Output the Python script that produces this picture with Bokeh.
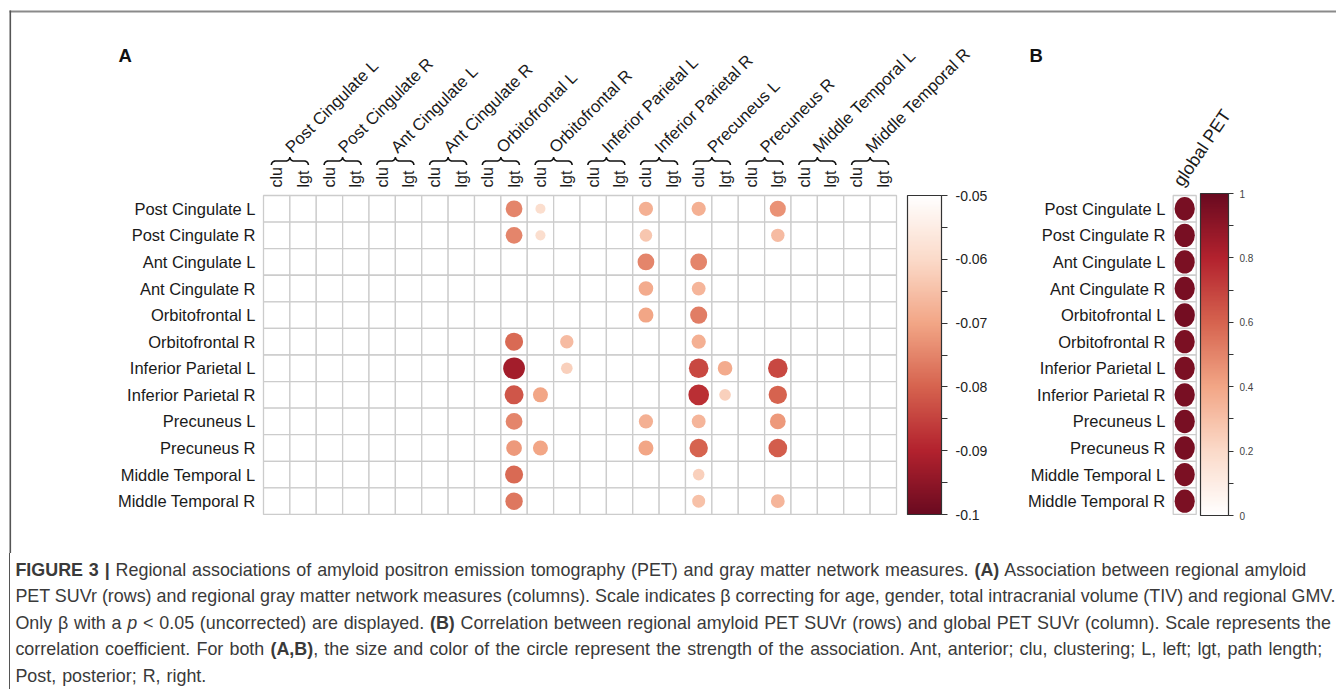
import numpy as np
from bokeh.plotting import figure
from bokeh.models import (ColumnDataSource, LinearColorMapper, ColorBar, FixedTicker,
                          CustomJSTickFormatter, Div, Range1d)
from bokeh.layouts import column
from bokeh.core.properties import value
from bokeh.embed import file_html
from bokeh.resources import INLINE

# ---------------- data ----------------
regions = ["Post Cingulate L", "Post Cingulate R", "Ant Cingulate L", "Ant Cingulate R",
           "Orbitofrontal L", "Orbitofrontal R", "Inferior Parietal L", "Inferior Parietal R",
           "Precuneus L", "Precuneus R", "Middle Temporal L", "Middle Temporal R"]
measures = ["clu", "lgt"]

# Panel A: beta (rows = regional PET SUVr); None = not significant / not displayed
orbitofrontal_l_lgt = [-0.075, -0.075, None, None, None, -0.079, -0.092, -0.082, -0.075, -0.072, -0.079, -0.077]
orbitofrontal_r_clu = [-0.059, -0.059, None, None, None, None, None, -0.070, None, -0.070, None, None]
orbitofrontal_r_lgt = [None, None, None, None, None, -0.066, -0.062, None, None, None, None, None]
inferior_parietal_r_clu = [-0.068, -0.064, -0.075, -0.069, -0.070, None, None, None, -0.068, -0.070, None, None]
precuneus_l_clu = [-0.068, None, -0.075, -0.067, -0.076, -0.068, -0.084, -0.088, -0.067, -0.080, -0.062, -0.065]
precuneus_l_lgt = [None, None, None, None, None, None, -0.069, -0.062, None, None, None, None]
precuneus_r_lgt = [-0.073, -0.066, None, None, None, None, -0.084, -0.080, -0.072, -0.081, None, -0.067]

a_columns = [("Orbitofrontal L", "lgt", orbitofrontal_l_lgt),
             ("Orbitofrontal R", "clu", orbitofrontal_r_clu),
             ("Orbitofrontal R", "lgt", orbitofrontal_r_lgt),
             ("Inferior Parietal R", "clu", inferior_parietal_r_clu),
             ("Precuneus L", "clu", precuneus_l_clu),
             ("Precuneus L", "lgt", precuneus_l_lgt),
             ("Precuneus R", "lgt", precuneus_r_lgt)]

# Panel B: correlation with global PET SUVr
global_pet_r = [0.96, 0.96, 0.95, 0.96, 0.97, 0.95, 0.95, 0.96, 0.96, 0.96, 0.95, 0.95]

a_ticks = [-0.1, -0.09, -0.08, -0.07, -0.06, -0.05]
a_minor_ticks = [-0.095, -0.085, -0.075, -0.065, -0.055]
b_ticks = [0, 0.2, 0.4, 0.6, 0.8, 1]
b_minor_ticks = [0.1, 0.3, 0.5, 0.7, 0.9]

caption_lines = [
    '<b>FIGURE 3 |</b> Regional associations of amyloid positron emission tomography (PET) and gray matter network measures. <b>(A)</b> Association between regional amyloid',
    'PET SUVr (rows) and regional gray matter network measures (columns). Scale indicates \u03b2 correcting for age, gender, total intracranial volume (TIV) and regional GMV.',
    'Only \u03b2 with a <i>p</i> &lt; 0.05 (uncorrected) are displayed. <b>(B)</b> Correlation between regional amyloid PET SUVr (rows) and global PET SUVr (column). Scale represents the',
    'correlation coefficient. For both <b>(A,B)</b>, the size and color of the circle represent the strength of the association. Ant, anterior; clu, clustering; L, left; lgt, path length;',
    'Post, posterior; R, right.',
]
caption_word_spacing = [0.9, 0.0, 0.8, 1.2, 1.0]

# ---------------- layout geometry (page pixels) ----------------
W, H, TOTAL_H = 1336, 553, 689
GRID_LEFT, CELL_W = 263.0, 26.375
GRID_TOP, CELL_H = 195.0, 26.58
FONT = value("Liberation Sans")


def X(px):
    return (px - GRID_LEFT) / CELL_W - 0.5


def Y(py):
    return 0.5 - (py - GRID_TOP) / CELL_H


anchors = ["#6A0A20", "#B3222E", "#D6634F", "#F2A686", "#FBDAC9", "#FFFFFF"]


def ramp(cols, n=256):
    rgb = np.array([[int(c[i:i + 2], 16) for i in (1, 3, 5)] for c in cols], float)
    pos = np.linspace(0, 1, len(cols))
    t = np.linspace(0, 1, n)
    out = np.stack([np.interp(t, pos, rgb[:, k]) for k in range(3)], axis=1)
    return ["#%02x%02x%02x" % tuple(int(round(v)) for v in row) for row in out]


pal = ramp(anchors)
map_a = LinearColorMapper(palette=pal, low=-0.1, high=-0.05)
map_b = LinearColorMapper(palette=pal[::-1], low=0, high=1)

p = figure(width=W, height=H, output_backend="svg", toolbar_location=None,
           x_range=Range1d(X(0), X(W)), y_range=Range1d(Y(H), Y(0)),
           x_axis_location=None, y_axis_location=None, min_border=0,
           background_fill_color="white", border_fill_color="white")
p.grid.visible = False
p.outline_line_color = None

# frame lines of the figure box
p.segment(x0=[X(9)], y0=[Y(11)], x1=[X(W)], y1=[Y(11)], line_color="#8a8a8a", line_width=2)
p.segment(x0=[X(9.8)], y0=[Y(10)], x1=[X(9.8)], y1=[Y(H)], line_color="#555555", line_width=1.6)

# ---------------- panel A ----------------
ncol = len(regions) * len(measures)
gx, gy = np.meshgrid(np.arange(ncol), -np.arange(len(regions)))
p.rect(x=gx.ravel(), y=gy.ravel(), width=1, height=1, fill_color="white",
       line_color="#cccccc", line_width=1.3)

cx, cy, cv = [], [], []
for reg, meas, vals in a_columns:
    ci = regions.index(reg) * 2 + measures.index(meas)
    for r, v in enumerate(vals):
        if v is not None:
            cx.append(ci)
            cy.append(-r)
            cv.append(v)
cv = np.array(cv)
src_a = ColumnDataSource(dict(x=cx, y=cy, v=cv,
                              r=0.45 * np.sqrt(np.clip((np.abs(cv) - 0.05) / 0.05, 0, 1))))
p.circle(x="x", y="y", radius="r", source=src_a,
         fill_color={"field": "v", "transform": map_a}, line_color=None)

# row labels
p.text(x=[X(255)] * len(regions), y=[-r for r in range(len(regions))], text=regions,
       text_align="right", text_baseline="middle", text_font=FONT,
       text_font_size="16.5px", text_color="#1a1a1a")

# clu / lgt labels
p.text(x=list(range(ncol)), y=[Y(187)] * ncol, text=measures * len(regions),
       angle=np.pi / 2, text_align="left", text_baseline="middle", text_font=FONT,
       text_font_size="16px", text_color="#1a1a1a")

# braces
bx, by = [], []
for k in range(len(regions)):
    c = GRID_LEFT + CELL_W * (2 * k + 1)
    pts = []
    for t in np.linspace(np.pi, np.pi / 2, 7):
        pts.append((c - 14.5 + 4 * np.cos(t), 164.5 - 4 * np.sin(t)))
    for t in np.linspace(-np.pi / 2, 0, 7):
        pts.append((c - 4 + 4 * np.cos(t), 156.5 - 4 * np.sin(t)))
    mirrored = [(2 * c - px, py) for px, py in reversed(pts)]
    pts = pts + mirrored
    bx.append([X(px) for px, _ in pts])
    by.append([Y(py) for _, py in pts])
p.multi_line(xs=bx, ys=by, line_color="#111111", line_width=1.6)

# region labels (rotated)
p.text(x=[2 * k + 0.5 - 0.06 for k in range(len(regions))], y=[Y(149.5)] * len(regions),
       text=regions, angle=np.pi / 4, text_align="left", text_baseline="alphabetic",
       text_font=FONT, text_font_size="16.8px", text_color="#1a1a1a")

# panel letters
p.text(x=[X(118), X(1029)], y=[Y(55), Y(55)], text=["A", "B"], text_align="left",
       text_baseline="alphabetic", text_font=FONT, text_font_size="18.5px",
       text_font_style="bold", text_color="#111111")

fmt = CustomJSTickFormatter(code="return String(Math.round(tick*100)/100)")
cb_a = ColorBar(color_mapper=map_a, orientation="vertical", width=34, height=319,
                location=(907, H - 514), padding=0, margin=0,
                ticker=FixedTicker(ticks=a_ticks, minor_ticks=a_minor_ticks),
                formatter=fmt, major_label_text_font="Liberation Sans",
                major_label_text_font_size="14px", major_label_text_color="#222222",
                major_tick_in=0, major_tick_out=6, minor_tick_in=0, minor_tick_out=6,
                major_tick_line_color="#333333", minor_tick_line_color="#333333",
                label_standoff=8, bar_line_color="#333333", bar_line_width=1.2,
                background_fill_alpha=0, border_line_color=None)
p.add_layout(cb_a, "center")

# ---------------- panel B ----------------
bcx = X(1184.2)
bw = 23.0 / CELL_W
p.rect(x=[bcx] * len(regions), y=[-r for r in range(len(regions))], width=bw, height=1,
       fill_color="white", line_color="#cccccc", line_width=1.3)
gv = np.array(global_pet_r)
src_b = ColumnDataSource(dict(x=[bcx] * len(regions), y=[-r for r in range(len(regions))], v=gv,
                              w=0.9 * np.sqrt(gv) * bw, h=0.9 * np.sqrt(gv)))
p.ellipse(x="x", y="y", width="w", height="h", source=src_b,
          fill_color={"field": "v", "transform": map_b}, line_color=None)

p.text(x=[X(1165)] * len(regions), y=[-r for r in range(len(regions))], text=regions,
       text_align="right", text_baseline="middle", text_font=FONT,
       text_font_size="16.5px", text_color="#1a1a1a")
p.text(x=[X(1177)], y=[Y(184)], text=["global PET"], angle=np.deg2rad(56),
       text_align="left", text_baseline="alphabetic", text_font=FONT,
       text_font_size="18px", text_color="#1a1a1a")

cb_b = ColorBar(color_mapper=map_b, orientation="vertical", width=28, height=322,
                location=(1200, H - 515), padding=0, margin=0,
                ticker=FixedTicker(ticks=b_ticks, minor_ticks=b_minor_ticks),
                formatter=fmt, major_label_text_font="Liberation Sans",
                major_label_text_font_size="10px", major_label_text_color="#444444",
                major_tick_in=0, major_tick_out=5, minor_tick_in=0, minor_tick_out=5,
                major_tick_line_color="#333333", minor_tick_line_color="#333333",
                label_standoff=6, bar_line_color="#333333", bar_line_width=1.2,
                background_fill_alpha=0, border_line_color=None)
p.add_layout(cb_b, "center")

# ---------------- caption ----------------
lines_html = "<br>".join('<span style="word-spacing:%.2fpx">%s</span>' % (ws, ln)
                         for ln, ws in zip(caption_lines, caption_word_spacing))
cap_html = ('<div style="margin-left:9px;border-left:1.6px solid #555;padding-left:5.4px;'
            'padding-top:4px;height:%dpx;box-sizing:border-box;'
            'font-family:\'Liberation Sans\',Arial,sans-serif;'
            'font-size:17.9px;line-height:26.4px;color:#3a3a3a;white-space:nowrap;">'
            % (TOTAL_H - H) + lines_html + "</div>")
cap = Div(text=cap_html, width=W, height=TOTAL_H - H, margin=0)

layout = column(p, cap, spacing=0)
open("out.html", "w").write(file_html(layout, INLINE))
